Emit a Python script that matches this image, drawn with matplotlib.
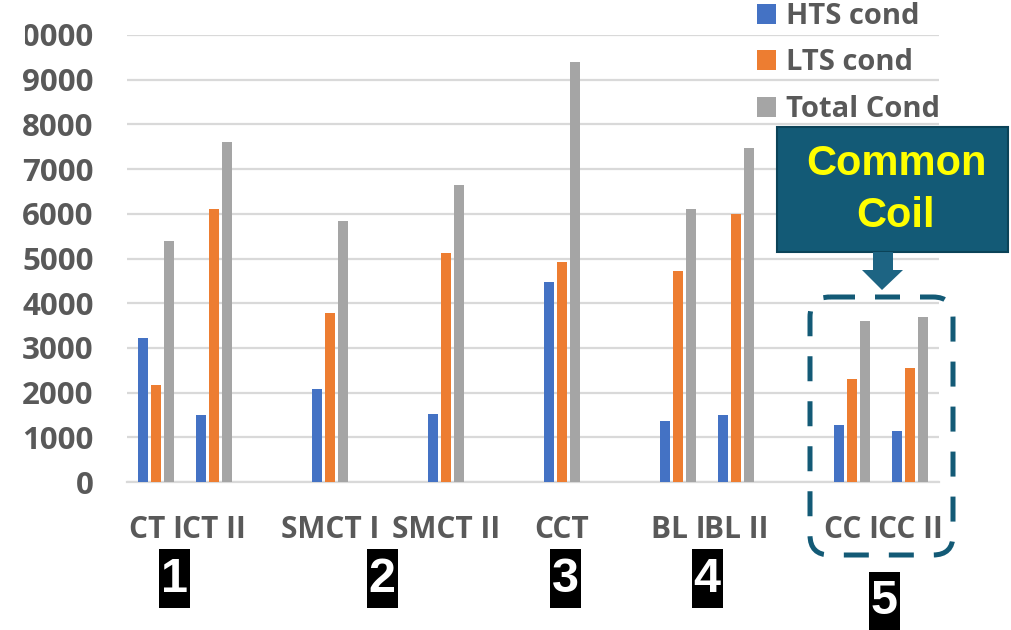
import numpy as np
import matplotlib
matplotlib.use("Agg")
import matplotlib.pyplot as plt
from matplotlib.patches import Patch, Rectangle, FancyBboxPatch, Polygon
from matplotlib.transforms import Bbox

# categories ("" = empty slot, as in the original sheet)
categories = ["CT I", "CT II", "", "SMCT I", "", "SMCT II", "", "CCT", "",
              "BL I", "BL II", "", "CC I", "CC II"]
nan = np.nan
hts_cond = [3230, 1500, nan, 2080, nan, 1520, nan, 4480, nan, 1370, 1500, nan, 1270, 1140]
lts_cond = [2170, 6100, nan, 3770, nan, 5130, nan, 4920, nan, 4730, 6000, nan, 2310, 2560]
total_cond = [5400, 7600, nan, 5850, nan, 6650, nan, 9400, nan, 6100, 7480, nan, 3600, 3700]
series_names = ["HTS cond", "LTS cond", "Total Cond"]
series_colors = ["#4472C4", "#ED7D31", "#A5A5A5"]
yticks = [0, 1000, 2000, 3000, 4000, 5000, 6000, 7000, 8000, 9000, 10000]

group_numbers = ["1", "2", "3", "4", "5"]
callout_text = "Common\nCoil"

txt_gray = "#595959"
teal = "#135A76"
font = "Open Sans"

fig = plt.figure(figsize=(10.11, 6.30), dpi=100)
W, H = 1011, 630
ax = fig.add_axes([127 / W, 148 / H, 812 / W, (482 - 35) / H])

x = np.arange(len(categories))
bw = 0.175
step = 0.224
for i, (vals, col) in enumerate(zip([hts_cond, lts_cond, total_cond], series_colors)):
    ax.bar(x + (i - 1) * step, vals, width=bw, color=col, zorder=3)

ax.set_xlim(-0.5, len(categories) - 0.5)
ax.set_ylim(0, 10000)
ax.set_yticks(yticks)
ax.set_yticklabels([str(v) for v in yticks])
ax.set_xticks(x)
ax.set_xticklabels(categories)
ax.yaxis.grid(True, color="#D9D9D9", linewidth=1.6, zorder=0)
ax.set_axisbelow(True)
for s in ["top", "right", "left"]:
    ax.spines[s].set_visible(False)
ax.spines["bottom"].set_color("#D9D9D9")
ax.spines["bottom"].set_linewidth(1.6)
ax.tick_params(axis="y", length=0, pad=24, labelsize=22.5, labelcolor=txt_gray)
ax.tick_params(axis="x", length=0, pad=24, labelsize=21.5, labelcolor=txt_gray)
for lab in ax.get_yticklabels() + ax.get_xticklabels():
    lab.set_fontfamily(font)
    lab.set_fontweight("bold")

# the top label is cut at the left border in the source image
top_lab = ax.yaxis.get_major_ticks()[-1].label1
top_lab.set_clip_box(Bbox([[25, 0], [W, H]]))
top_lab.set_clip_on(True)

handles = [Patch(facecolor=c, label=n) for c, n in zip(series_colors, series_names)]
leg = ax.legend(handles=handles, loc="upper left", bbox_to_anchor=(757 / W, 1 - 2 / H),
                bbox_transform=fig.transFigure, frameon=False, borderpad=0,
                borderaxespad=0, handlelength=0.66, handleheight=0.66,
                handletextpad=0.33, labelspacing=0.6,
                prop={"family": font, "weight": "bold", "size": 21})
for t in leg.get_texts():
    t.set_color(txt_gray)

# overlay in pixel coordinates for the annotations
ov = fig.add_axes([0, 0, 1, 1], facecolor="none")
ov.set_xlim(0, W)
ov.set_ylim(H, 0)
ov.axis("off")

# callout box
ov.add_patch(Rectangle((777, 127), 231, 125, facecolor=teal, edgecolor="#0B4358", lw=1.5))
ov.text(896, 190, callout_text, ha="center", va="center", color="#FFFF00",
        fontsize=30, fontweight="bold", family="Liberation Sans", linespacing=1.38)
ov.add_patch(Polygon([(873, 252), (893, 252), (893, 270), (903, 270), (882, 290),
                      (862, 270), (873, 270)], closed=True, facecolor="#1D6483",
                     edgecolor="none"))
# dashed group outline
ov.add_patch(FancyBboxPatch((810, 297), 143, 258, boxstyle="round,pad=0,rounding_size=20",
                            facecolor="none", edgecolor=teal, lw=3.6,
                            linestyle=(0, (5, 4))))

# numbered group boxes
box_centers = [(174, 578), (382, 578), (565, 578), (707, 578), (884, 601)]
for num, (cx, cy) in zip(group_numbers, box_centers):
    ov.add_patch(Rectangle((cx - 15.5, cy - 29.5), 31, 59, facecolor="black", edgecolor="none"))
    ov.text(cx, cy + 1, num, ha="center", va="center", color="white", fontsize=35,
            fontweight="bold", family=["Liberation Sans Narrow", "Liberation Sans"])

fig.savefig("out.png", dpi=100)
